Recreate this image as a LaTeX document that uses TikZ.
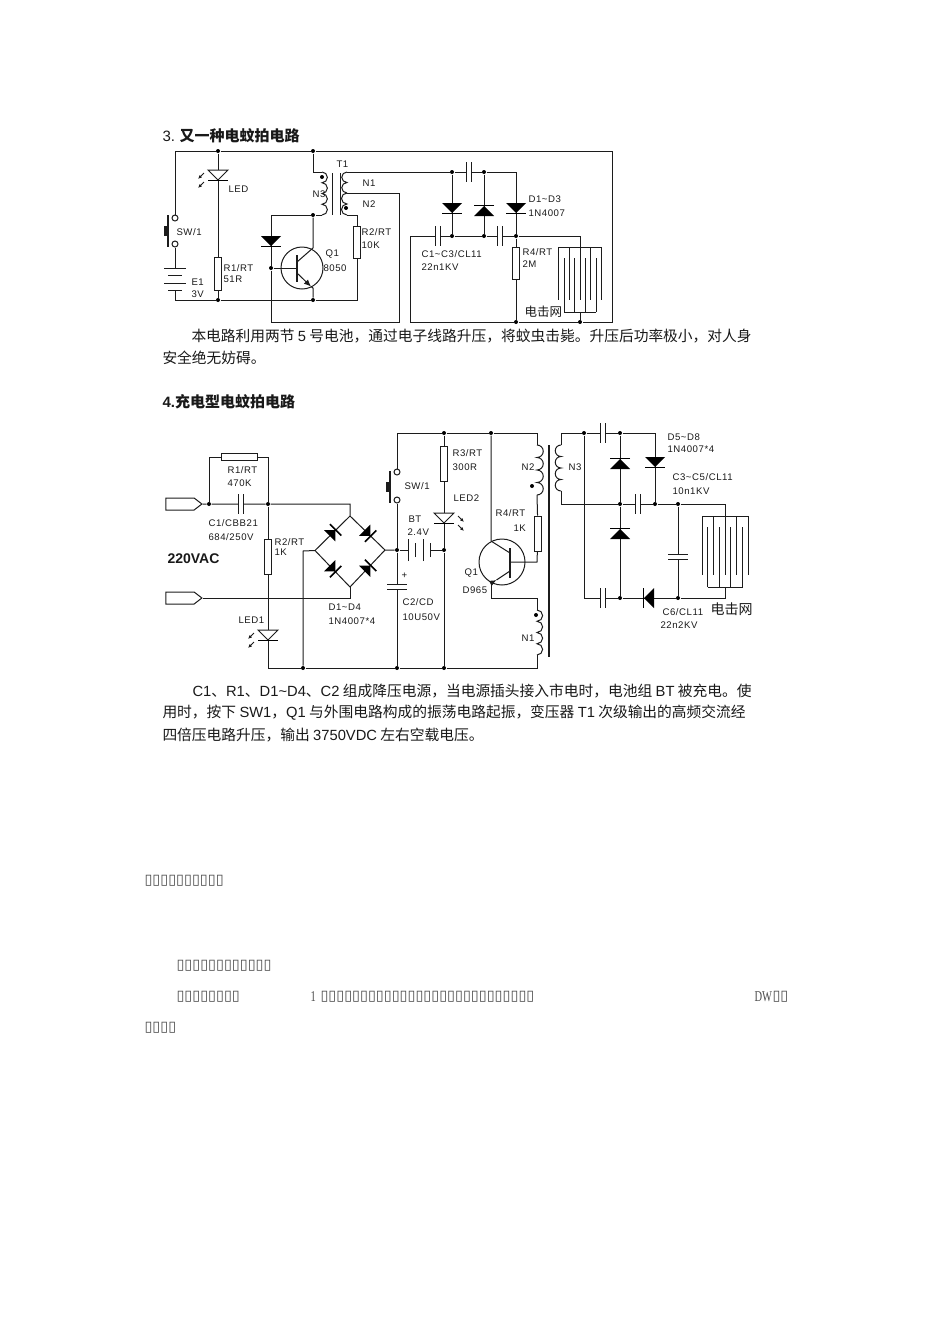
\documentclass[tikz,border=0pt]{standalone}
\usepackage{fontspec}
\setmainfont{Liberation Sans}
\newfontfamily\cjk{Noto Sans CJK SC}
\newfontfamily\lat{Liberation Sans}
\newfontfamily\lblf[LetterSpace=6]{Liberation Sans}
\newfontfamily\serf{Liberation Serif}
\newfontfamily\tofu{DejaVu Sans}
\usetikzlibrary{positioning,shapes,arrows.meta}
\definecolor{wirec}{HTML}{1C1C1C}
\tikzset{
	jdot/.style={circle, fill=black, inner sep=0, minimum size=4pt},
	term/.style={circle, draw, fill=white, inner sep=0, minimum size=6pt},
	res/.style={rectangle, draw, fill=white, inner sep=0, minimum width=7pt, minimum height=#1},
	resh/.style={rectangle, draw, fill=white, inner sep=0, minimum width=#1, minimum height=7pt},
	qcirc/.style={circle, draw, inner sep=0, minimum size=#1},
	plug/.style={signal, signal to=east, signal pointer angle=75, draw, inner sep=0, minimum width=36pt, minimum height=12pt},
	lbl/.style={anchor=west, inner sep=0, text=black!90, font=\fontsize{9.6}{10}\lblf},
	para/.style={anchor=west, inner sep=0, text=black!90, font=\fontsize{14.74}{15}\cjk},
	tofuline/.style={anchor=west, inner sep=0, text=black!70, font=\fontsize{14.4}{15}\tofu},
	pics/diode/.style={code={
		\fill[black] (-10,-5) -- (10,-5) -- (0,5) -- cycle;
		\draw[line width=1.5pt, black] (-10,5.5) -- (10,5.5);
	}},
	pics/led/.style={code={
		\draw[fill=white] (-10,-5) -- (10,-5) -- (0,5) -- cycle;
		\draw[line width=1.5pt, black] (-10,5.5) -- (10,5.5);
		\foreach \y in {-2,7}
			\draw[-{Latex[length=4pt,width=3.5pt]}] (-14,\y) -- (-20,\y+6);
	}},
	pics/capv/.style={code={
		\fill[white] (-2.5,-10) rectangle (2.5,10);
		\draw (-2.5,-10) -- (-2.5,10);
		\draw (2.5,-10) -- (2.5,10);
	}},
	pics/coil/.style 2 args={code={
		\draw (0,0) \foreach \k in {1,...,#1} {arc (-90:90:#2)};
	}},
	pics/batt/.style={code={
		\foreach \k in {0,2} {
			\draw (-11,\k*#1) -- (11,\k*#1);
			\draw[line width=1.8pt] (-7,\k*#1+#1) -- (7,\k*#1+#1);}
	}},
	pics/swbar/.style={code={
		\draw[line width=1.4pt] (0,-16) -- (0,16);
		\fill (-4,-5) rectangle (0,5);
	}},
	pics/comb/.style 2 args={code={
		\draw (-#1,0) -- (#1,0);
		\foreach \k in {-2,-1,0,1,2}
			\draw (\k*#1/2,0) -- (\k*#1/2,#2);
	}},
	pics/combup/.style 2 args={code={
		\draw (-#1,0) -- (#1,0);
		\foreach \k in {-3,-1,1,3}
			\draw (\k*#1/3,0) -- (\k*#1/3,-#2);
	}},
}
\begin{document}
\begin{tikzpicture}[x=1pt, y=-1pt, line width=1pt, color=wirec]
	\useasboundingbox (0,0) rectangle (950,1344);

	% upper circuit
	\foreach \n/\x/\y in {aD1/218/151, aD2/313/151, aD3/218/300, aD4/313/300, aD5/313/215, aD6/271/268,
		aD7/452/172, aD8/484/172, aD9/452/236, aD10/484/236, aD11/516/236, aD12/516/322, aD13/580/322}
		\node[jdot] (\n) at (\x,\y) {};
	\foreach \n/\x/\y in {aTR/612/151, aBR/612/322, aL1/410/322, aL2/410/236, aW1/580/236, aMesh/580/247,
		aBt/175/268, aBb/175/290.5, aBL/175/300, aC1/357/215, aC2/357/300, aN3t0/313/172, aN3t/322/172, aN3b/322/215,
		aN1t/347/172, aN1b/347/193, aN2b/347/215, aC3/271/215, aC4/271/322, aC5/399/322, aC6/399/193, aW2/516/172,
		aQc/313/248, aQcb/297/262, aQeb/297/273, aQa/311/286.5, aQe/313/288, aQb/297/268, aMeshB/580/312}
		\coordinate (\n) at (\x,\y);
	\node[term] (aSWt) at (175,218) {};
	\node[term] (aSWb) at (175,244) {};
	\node[res=33pt] (aR1) at (218,273.5) {};
	\node[res=32pt] (aR2) at (357,242) {};
	\node[res=32pt] (aR4) at (516,263) {};
	\node[qcirc=42pt] (aQ1) at (302,268) {};

	\draw (aSWt) |- (aD1) -- (aD2) -- (aTR) -- (aBR) -- (aD13) -- (aD12) -- (aL1) -- (aL2) -- (aD9) -- (aD10) -- (aD11) -- (aW1) -- (aMesh);
	\draw (aSWb) -- (aBt);
	\draw (aBb) -- (aBL) -- (aD3) -- (aD4) -- (aC2) -- (aR2) -- (aC1) -- (aN2b);
	\draw (aD1) -- (aR1) -- (aD3);
	\draw (aD2) -- (aN3t0) -- (aN3t);
	\draw (aN3b) -- (aD5) -- (aC3) -- (aD6) -- (aC4) -- (aC5) -- (aC6) -- (aN1b);
	\draw (aD5) -- (aQc) -- (aQcb);
	\draw[-{Latex[length=7pt,width=6pt]}] (aQeb) -- (aQa);
	\draw (aQa) -- (aQe) -- (aD4);
	\draw (aD6) -- (aQb);
	\draw[line width=2pt] (297,255) -- (297,282);
	\draw (aN1t) -- (aD7) -- (aD8) -- (aW2) -- (aD11);
	\draw (aD7) -- (aD9);
	\draw (aD8) -- (aD10);
	\draw (aD11) -- (aR4) -- (aD12);
	\draw (aMeshB) -- (aD13);

	\pic at (168,231) {swbar};
	\pic at (aBt) {batt=7.5};
	\pic at (218,175) {led};
	\pic at (271,241) {diode};
	\pic at (452,208) {diode};
	\pic[rotate=180] at (484,211) {diode};
	\pic at (516,208) {diode};
	\pic at (437.5,236) {capv};
	\pic at (500,236) {capv};
	\pic at (468.5,172) {capv};
	\pic at (aN3t) {coil={4}{5.375}};
	\pic[xscale=-1] at (aN1t) {coil={2}{5.25}};
	\pic[xscale=-1] at (aN1b) {coil={2}{5.5}};
	\draw (332,173) -- (332,215);
	\draw (340,173) -- (340,215);
	\pic at (aMesh) {comb={21.5}{53}};
	\pic at (aMeshB) {combup={16}{54}};
	\node[jdot] (aDotP) at (322,177) {};
	\node[jdot] (aDotS) at (346,208) {};

	\foreach \n/\x/\y/\t in {lT/336/164/T1, lLED/228/189/LED, lN3/312/194/N3, lN1/362/183/N1, lN2/362/204/N2,
		lSW/176/232/{SW/1}, lRa/223/268/{R1/RT}, lRb/223/279/51R, lEa/191/282/E1, lEb/191/294/3V,
		lQa/325/254/Q1, lQb/323/268/8050, lRc/361/232/{R2/RT}, lRd/361/245/10K,
		lCa/421/254/{C1\textasciitilde C3/CL11}, lCb/421/267/22n1KV, lDa/528/199/{D1\textasciitilde D3}, lDb/528/213/1N4007,
		lRe/522/252/{R4/RT}, lRf/522/264/2M}
		\node[lbl] (\n) at (\x,\y) {\t};
	\node[lbl, font=\fontsize{12.5}{13}\cjk, fill=white] (lNet) at (524,312) {电击网};

	% lower circuit
	\foreach \n/\x/\y in {bD1/209/504, bD2/268/504, bD3/397/550, bD4/444/550, bD5/444/433, bD6/491/433, bD7/303/668,
		bD8/397/668, bD9/444/668, bD10/584/433, bD11/620/433, bD12/620/504, bD13/655/504, bD14/678/504, bD15/620/598, bD16/678/598}
		\node[jdot] (\n) at (\x,\y) {};
	\foreach \n/\x/\y in {bW1/350/504, bT/350/516, bR/385/550, bL/315/550.5, bBt/350/587, bW3/303/551, bW2/350/598,
		bW4/209/457, bW5/268/457, bW6/268/668, bW7/537/668, bN1b/537/655, bW8/397/433, bN2t0/537/433, bN2t/537/445,
		bBa/408/550, bBb/431/550, bQc1/491/541, bQc2/510/553, bQe2/510/571, bQa/496.5/580, bQe1/491/583, bW9/491/598,
		bN1t0/537/598, bN1t/537/610, bN2b/537/495, bW10/537/562, bQb/510/562, bN3t0/561/433, bN3t/561/445, bN3b/561/491,
		bW11/561/504, bW12/725/504, bW13/725/516, bW14/655/433, bW15/584/598, bW16/725/598, bW17/725/587}
		\coordinate (\n) at (\x,\y);
	\node[plug] (plugA) at (180,504) {};
	\node[plug] (plugB) at (180,598) {};
	\node[term] (bSWt) at (397,472) {};
	\node[term] (bSWb) at (397,500) {};
	\node[resh=36pt] (bR1) at (239,457) {};
	\node[res=35pt] (bR2) at (268,556.5) {};
	\node[res=35pt] (bR3) at (444,463.5) {};
	\node[res=35pt] (bR4) at (538,533.5) {};
	\node[qcirc=46pt] (bQ1) at (502,562) {};

	\draw (plugA.east) -- (bD1) -- (bD2) -- (bW1) -- (bT) -- (bR) -- (bD3);
	\draw (bT) -- (bL) -- (bBt) -- (bR);
	\draw (bL) -- (bW3) -- (bD7);
	\draw (plugB.east) -- (bW2) -- (bBt);
	\draw (bD1) -- (bW4) -- (bR1) -- (bW5) -- (bD2) -- (bR2) -- (bW6) -- (bD7) -- (bD8) -- (bD9) -- (bW7) -- (bN1b);
	\draw (bSWt) -- (bW8) -- (bD5) -- (bD6) -- (bN2t0) -- (bN2t);
	\draw (bSWb) -- (bD3) -- (bD8);
	\draw (bD3) -- (bBa);
	\draw (bBb) -- (bD4);
	\draw (bD5) -- (bR3) -- (bD4) -- (bD9);
	\draw (bD6) -- (bQc1) -- (bQc2);
	\draw[-{Latex[length=7pt,width=6pt]}] (bQe1) -- (bQa);
	\draw (bQa) -- (bQe2);
	\draw (bQe1) -- (bW9) -- (bN1t0) -- (bN1t);
	\draw (bN2b) -- (bR4) -- (bW10) -- (bQb);
	\draw[line width=2pt] (510,548) -- (510,578);
	\draw (bD10) -- (bN3t0) -- (bN3t);
	\draw (bN3b) -- (bW11) -- (bD12) -- (bD13) -- (bD14) -- (bW12) -- (bW13);
	\draw (bD10) -- (bD11) -- (bW14) -- (bD13);
	\draw (bD10) -- (bW15) -- (bD15) -- (bD16) -- (bW16) -- (bW17);
	\draw (bD11) -- (bD12) -- (bD15);
	\draw (bD14) -- (bD16);

	\pic at (390,487) {swbar};
	\pic[rotate=90] at (bBa) {batt=7.5};
	\pic at (240.5,504) {capv};
	\pic at (602.5,433) {capv};
	\pic at (638,504) {capv};
	\pic at (602.5,598) {capv};
	\pic[rotate=90] at (397,586.5) {capv};
	\pic[rotate=90] at (678,557) {capv};
	\pic at (268,635) {led};
	\pic[xscale=-1] at (444,518) {led};
	\pic[scale=.8, rotate=135] at (332.5,533) {diode};
	\pic[scale=.8, rotate=45] at (367.5,533) {diode};
	\pic[scale=.8, rotate=45] at (332.5,568.5) {diode};
	\pic[scale=.8, rotate=135] at (367.5,568.5) {diode};
	\pic at (655,462) {diode};
	\pic[rotate=180] at (620,464) {diode};
	\pic[rotate=180] at (620,534) {diode};
	\pic[rotate=-90] at (649,598) {diode};
	\pic at (bN2t) {coil={4}{6.25}};
	\pic at (bN1t) {coil={4}{5.625}};
	\pic[xscale=-1] at (bN3t) {coil={4}{5.75}};
	\draw[line width=2.6pt] (549,445) -- (549,657);
	\pic at (bW13) {comb={23}{59}};
	\pic at (bW17) {combup={17.5}{60}};
	\node[jdot] (bDotA) at (532,486) {};
	\node[jdot] (bDotB) at (536,615) {};

	\foreach \n/\x/\y/\t in {mRa/227/470/{R1/RT}, mRb/227/483/470K, mCa/208/523/{C1/CBB21}, mCb/208/537/{684/250V},
		mRc/274/542/{R2/RT}, mRd/274/552/1K, mDa/328/607/{D1\textasciitilde D4}, mDb/328/621/1N4007*4, mLa/238/620/LED1,
		mSW/404/486/{SW/1}, mBa/408/519/BT, mBb/407/532/2.4V, mCc/402/602/{C2/CD}, mCd/402/617/10U50V, mPl/401/576/+,
		mRe/452/453/{R3/RT}, mRf/452/467/300R, mLb/453/498/LED2, mRg/495/513/{R4/RT}, mRh/513/528/1K,
		mQa/464/573/Q1, mQb/462/590/D965, mN2/521/467/N2, mN1/521/638/N1, mN3/568/467/N3,
		mDc/667/437/{D5\textasciitilde D8}, mDd/667/449/1N4007*4, mCe/672/477/{C3\textasciitilde C5/CL11}, mCf/672/491/10n1KV,
		mCg/662/612/{C6/CL11}, mCh/660/625/22n2KV}
		\node[lbl] (\n) at (\x,\y) {\t};
	\node[lbl, font=\fontsize{14}{15}\cjk] (mNet) at (710,609) {电击网};
	\node[lbl, font=\bfseries\fontsize{14}{15}\lat] (mAC) at (167,559) {220VAC};

	% text
	\node[para, font=\bfseries\fontsize{15}{16}\cjk] (headA) at (162,136) {{\lat\mdseries 3.} 又一种电蚊拍电路};
	\node[para] (txtA) at (191,336) {本电路利用两节 {\lat 5} 号电池，通过电子线路升压，将蚊虫击毙。升压后功率极小，对人身};
	\node[para] (txtB) at (162,358) {安全绝无妨碍。};
	\node[para, font=\bfseries\fontsize{15}{16}\cjk] (headB) at (162,402) {{\lat 4.}充电型电蚊拍电路};
	\node[para] (txtC) at (192,691) {{\lat C1}、{\lat R1}、{\lat D1\textasciitilde D4}、{\lat C2} 组成降压电源，当电源插头接入市电时，电池组 {\lat BT} 被充电。使};
	\node[para] (txtD) at (162,713) {用时，按下 {\lat SW1}，{\lat Q1} 与外围电路构成的振荡电路起振，变压器 {\lat T1} 次级输出的高频交流经};
	\node[para] (txtE) at (162,735) {四倍压电路升压，输出 {\lat 3750VDC} 左右空载电压。};

	\foreach \n/\x/\y/\t in {tofA/144/881/▯▯▯▯▯▯▯▯▯▯, tofB/176/966/▯▯▯▯▯▯▯▯▯▯▯▯, tofC/176/997/▯▯▯▯▯▯▯▯,
		tofD/320/997/▯▯▯▯▯▯▯▯▯▯▯▯▯▯▯▯▯▯▯▯▯▯▯▯▯▯▯, tofE/772/997/▯▯, tofF/144/1028/▯▯▯▯}
		\node[tofuline] (\n) at (\x,\y) {\t};
	\node[tofuline, font=\fontsize{15}{16}\serf] (tofOne) at (310,997) {\scalebox{.7}[1]{1}};
	\node[tofuline, font=\fontsize{15}{16}\serf] (tofDW) at (754,997) {\scalebox{.7}[1]{DW}};
\end{tikzpicture}
\end{document}
